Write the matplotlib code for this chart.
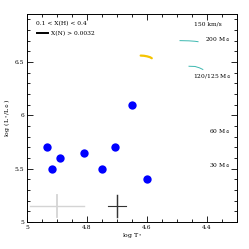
import numpy as np
import matplotlib
matplotlib.use('Agg')
from matplotlib import pyplot as plt
from matplotlib.ticker import MultipleLocator

# observed stars
star_logT = [4.932, 4.916, 4.889, 4.81, 4.75, 4.706, 4.649, 4.601]
star_logL = [5.70, 5.50, 5.60, 5.65, 5.50, 5.70, 6.10, 5.40]

# track segments with X(N) > 0.0032
yellow_logT = [4.621, 4.61, 4.60, 4.59, 4.584]
yellow_logL = [6.56, 6.558, 6.553, 6.545, 6.535]
cyan200_logT = [4.49, 4.46, 4.44, 4.43]
cyan200_logL = [6.70, 6.698, 6.694, 6.69]
cyan120_logT = [4.46, 4.44, 4.425, 4.414]
cyan120_logL = [6.46, 6.458, 6.445, 6.43]

# error bars
err_logT = [4.90, 4.701]
err_logL = [5.15, 5.15]
err_dT = [0.09, 0.03]
err_dL = [0.1, 0.1]
err_col = ['#d4d4d4', '#333333']
err_lw = [1.0, 0.8]

mass_labels = ['200 M$_\\odot$', '120/125 M$_\\odot$', '60 M$_\\odot$', '30 M$_\\odot$']
mass_pos = [(4.322, 6.713), (4.318, 6.367), (4.322, 5.85), (4.322, 5.53)]

plt.rcParams['font.family'] = ['DejaVu Serif']
fig = plt.figure(figsize=(2.49, 2.49), dpi=100)
ax = fig.add_axes([0.108, 0.108, 0.844, 0.836])

for t, l, dt, dl, c, w in zip(err_logT, err_logL, err_dT, err_dL, err_col, err_lw):
    ax.plot([t - dt, t + dt], [l, l], color=c, lw=w)
    ax.plot([t, t], [l - dl, l + dl], color=c, lw=w * 1.3)

ax.plot(star_logT, star_logL, 'o', color='#0000ff', ms=6, mec='none')
ax.plot(yellow_logT, yellow_logL, color='#f5c400', lw=1.6, solid_capstyle='round')
ax.plot(cyan200_logT, cyan200_logL, color='#3cb8b0', lw=0.7)
ax.plot(cyan120_logT, cyan120_logL, color='#3cb8b0', lw=0.7)

ax.text(4.97, 6.86, '0.1 < X(H) < 0.4', fontsize=4.3, va='center')
ax.plot([4.967, 4.93], [6.77, 6.77], color='black', lw=1.4)
ax.text(4.921, 6.77, 'X(N) > 0.0032', fontsize=4.3, va='center')
ax.text(4.35, 6.86, '150 km/s', fontsize=4.3, va='center', ha='right')
for lab, (x, y) in zip(mass_labels, mass_pos):
    ax.text(x, y, lab, fontsize=4.3, va='center', ha='right')

ax.set_xlim(5, 4.3)
ax.set_ylim(5, 6.95)
ax.xaxis.set_minor_locator(MultipleLocator(0.05))
ax.yaxis.set_minor_locator(MultipleLocator(0.1))
ax.set_xticks([5, 4.8, 4.6, 4.4])
ax.set_xticklabels(['5', '4.8', '4.6', '4.4'])
ax.set_yticks([5, 5.5, 6, 6.5])
ax.set_yticklabels(['5', '5.5', '6', '6.5'])
ax.tick_params(which='both', direction='in', top=True, right=True, labelsize=4.3, pad=2, width=0.6)
ax.tick_params(which='major', length=4)
ax.tick_params(which='minor', length=2)
for s in ax.spines.values():
    s.set_linewidth(0.7)

ax.set_xlabel(r'log T$_*$', fontsize=4.5, labelpad=1)
ax.set_ylabel(r'log (L$_*$/L$_\odot$)', fontsize=4.5, labelpad=2)

fig.savefig('out.png', dpi=100)
